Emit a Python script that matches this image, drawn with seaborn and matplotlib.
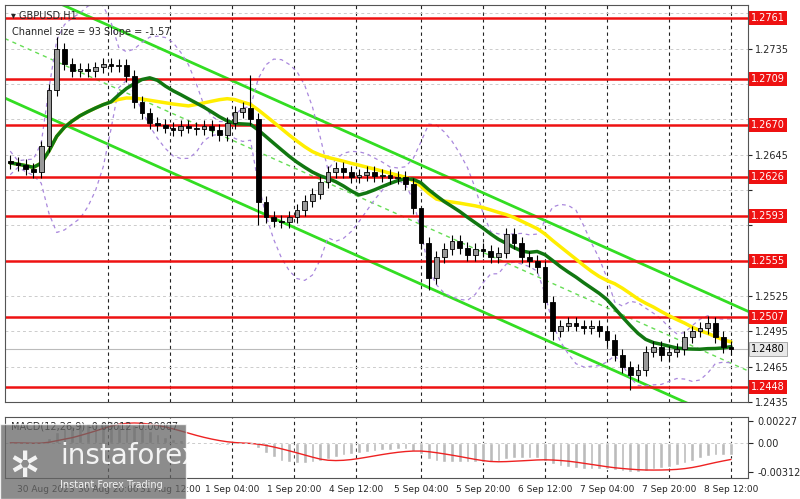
import numpy as np
import pandas as pd
import matplotlib
matplotlib.use("Agg")
import matplotlib.pyplot as plt
import seaborn as sns
from matplotlib.patches import Rectangle

closes = [1.2638,1.2636,1.2633,1.2630,1.2652,1.2700,1.2735,1.2722,1.2716,1.2718,
          1.2716,1.2719,1.2722,1.2720,1.2721,1.2712,1.2690,1.2680,1.2672,1.2670,
          1.2668,1.2666,1.2669,1.2668,1.2667,1.2669,1.2666,1.2662,1.2672,1.2681,
          1.2685,1.2675,1.2605,1.2592,1.2589,1.2588,1.2592,1.2598,1.2606,1.2612,
          1.2622,1.2630,1.2634,1.2630,1.2626,1.2628,1.2630,1.2627,1.2628,1.2625,
          1.2626,1.2620,1.2600,1.2570,1.2540,1.2558,1.2565,1.2572,1.2566,1.2560,
          1.2565,1.2563,1.2558,1.2562,1.2578,1.2570,1.2558,1.2555,1.2550,1.2520,
          1.2495,1.2500,1.2502,1.2500,1.2498,1.2500,1.2495,1.2488,1.2475,1.2465,
          1.2458,1.2462,1.2478,1.2482,1.2475,1.2478,1.2480,1.2490,1.2495,1.2498,
          1.2502,1.2490,1.2482,1.2480]
first_open = 1.2640
spike_high = {6: 1.2745, 31: 1.2713, 53: 1.2598, 90: 1.2508}
spike_low = {32: 1.2585, 54: 1.2530, 70: 1.2488, 80: 1.2445}
levels = [1.2761, 1.2709, 1.2670, 1.2626, 1.2593, 1.2555, 1.2507, 1.2448]
last_price = 1.2480
price_ticks = [1.2765, 1.2735, 1.2705, 1.2675, 1.2645, 1.2615, 1.2585, 1.2555, 1.2525, 1.2495, 1.2465, 1.2435]
time_labels = ["30 Aug 2023", "30 Aug 20:00", "31 Aug 12:00", "1 Sep 04:00", "1 Sep 20:00", "4 Sep 12:00",
               "5 Sep 04:00", "5 Sep 20:00", "6 Sep 12:00", "7 Sep 04:00", "7 Sep 20:00", "8 Sep 12:00"]
time_pos = [4.6, 12.6, 20.6, 28.6, 36.6, 44.6, 53, 61, 69, 77, 85, 93]
channel_top0, channel_slope, channel_width = 1.2792, -0.000294, 0.0101
macd_title = "MACD(12,26,9) -0.00012 -0.00007"

n = len(closes)
idx = np.arange(n)
c = np.array(closes)
o = np.concatenate([[first_open], c[:-1]])
hi = np.maximum(o, c) + 0.0005
lo = np.minimum(o, c) - 0.0005
for k, v in spike_high.items(): hi[k] = v
for k, v in spike_low.items(): lo[k] = v
s = pd.Series(c)
df = pd.DataFrame({"i": idx, "c": c,
                   "ma_g": s.rolling(14, min_periods=1).mean(),
                   "ma_y": s.rolling(24, min_periods=1).mean()})
bm = s.rolling(10, min_periods=1).mean()
bs = s.rolling(10, min_periods=2).std().fillna(0.0005)
df["bu"] = bm + 2 * bs
df["bl"] = bm - 2 * bs

sns.set_style("white")
plt.rcParams['font.family'] = ['DejaVu Sans']
fig = plt.figure(figsize=(8, 4.99), dpi=100)
ax = fig.add_axes([0.006, 0.194, 0.929, 0.796])
ax2 = fig.add_axes([0.006, 0.042, 0.929, 0.122], sharex=ax)

xmin, xmax = -0.7, 95.2
for a in (ax, ax2):
    a.set_xlim(xmin, xmax)
    for sp in a.spines.values():
        sp.set_color("#555555"); sp.set_linewidth(0.8)
    for tp in time_pos[1:]:
        a.axvline(tp, color="#222222", ls=(0, (3, 3)), lw=0.8, zorder=0)
ax.set_ylim(1.2439, 1.2772)
ax.yaxis.tick_right()
avoid = levels + [last_price]
shown = [t for t in price_ticks if min(abs(t - l) for l in avoid) > 0.0011]
ax.set_yticks(price_ticks)
ax.set_yticklabels([f"{t:.4f}" if t in shown else "" for t in price_ticks], fontsize=7)
ax.grid(True, axis="y", color="#cccccc", ls=(0, (3, 3)), lw=0.7)
ax.tick_params(axis="x", length=0, labelbottom=False)
ax.tick_params(axis="y", length=3, pad=2)

xs = np.array([xmin, xmax])
top = channel_top0 + channel_slope * xs
sns.lineplot(x=xs, y=top, ax=ax, color="#33dd22", lw=2)
sns.lineplot(x=xs, y=top - channel_width, ax=ax, color="#33dd22", lw=2)
ax.plot(xs, top - channel_width / 2, color="#66dd55", lw=1, ls=(0, (3, 3)))

ax.plot(df.i, df.bu, color="#aa88dd", lw=0.9, ls=(0, (3, 3)))
ax.plot(df.i, df.bl, color="#aa88dd", lw=0.9, ls=(0, (3, 3)))

for lv in levels:
    ax.axhline(lv, color="#ee1111", lw=1.8, zorder=2)
ax.axhline(last_price, color="#bbbbbb", lw=0.8, zorder=2)

sns.lineplot(data=df, x="i", y="ma_y", ax=ax, color="#ffee00", lw=2.5, zorder=3)
sns.lineplot(data=df, x="i", y="ma_g", ax=ax, color="#117711", lw=2.5, zorder=3)

for i in range(n):
    ax.vlines(i, lo[i], hi[i], color="black", lw=0.8, zorder=4)
    b0, b1 = min(o[i], c[i]), max(o[i], c[i])
    fc = "#999999" if c[i] >= o[i] else "black"
    ax.add_patch(Rectangle((i - 0.3, b0), 0.6, max(b1 - b0, 0.00005), fc=fc, ec="black", lw=0.6, zorder=5))
ax.set_xlabel(""); ax.set_ylabel("")

for lv in levels:
    ax.text(1.004, lv, f"{lv:.4f}", transform=ax.get_yaxis_transform(), fontsize=7, color="white",
            va="center", ha="left", bbox=dict(fc="#ee1111", ec="none", pad=1.5), clip_on=False, zorder=10)
ax.text(1.004, last_price, f"{last_price:.4f}", transform=ax.get_yaxis_transform(), fontsize=7, color="black",
        va="center", ha="left", bbox=dict(fc="#e8e8e8", ec="#888888", pad=1.5, lw=0.5), clip_on=False, zorder=10)
ax.text(0.008, 0.985, "▾ GBPUSD,H1", transform=ax.transAxes, fontsize=7, va="top")
ax.text(0.01, 0.945, "Channel size = 93 Slope = -1.57", transform=ax.transAxes, fontsize=7, va="top")

ema12 = s.ewm(span=12, adjust=False).mean()
ema26 = s.ewm(span=26, adjust=False).mean()
macd = ema12 - ema26
sig = macd.rolling(9, min_periods=1).mean()
ax2.bar(idx, macd, width=0.5, color="#bbbbbb")
ax2.plot(idx, sig, color="#ee2222", lw=1)
mx, mn = float(macd.max()), float(macd.min())
ax2.set_ylim(mn * 1.2, mx * 1.2)
ax2.yaxis.tick_right()
ax2.set_yticks([mx, 0.0, mn])
ax2.set_yticklabels([f"{mx:.5f}", "0.00", f"{mn:.5f}"], fontsize=7)
ax2.axhline(0, color="#cccccc", lw=0.7, ls=(0, (3, 3)))
ax2.text(0.008, 0.93, macd_title, transform=ax2.transAxes, fontsize=7, va="top")
ax2.set_xticks(time_pos)
ax2.set_xticklabels(time_labels, fontsize=6.5)
ax2.tick_params(axis="x", length=3, pad=2)

fig.patches.append(Rectangle((0, 0), 0.232, 0.15, transform=fig.transFigure, fc="#666666", alpha=0.75, zorder=20))
fig.text(0.075, 0.07, "instaforex", fontsize=20, color="white", zorder=21, alpha=0.9)
fig.text(0.075, 0.022, "Instant Forex Trading", fontsize=7, color="white", zorder=21, alpha=0.9)
fig.text(0.012, 0.045, "✲", fontsize=26, color="white", zorder=21, alpha=0.9)
fig.savefig("out.png", dpi=100)
